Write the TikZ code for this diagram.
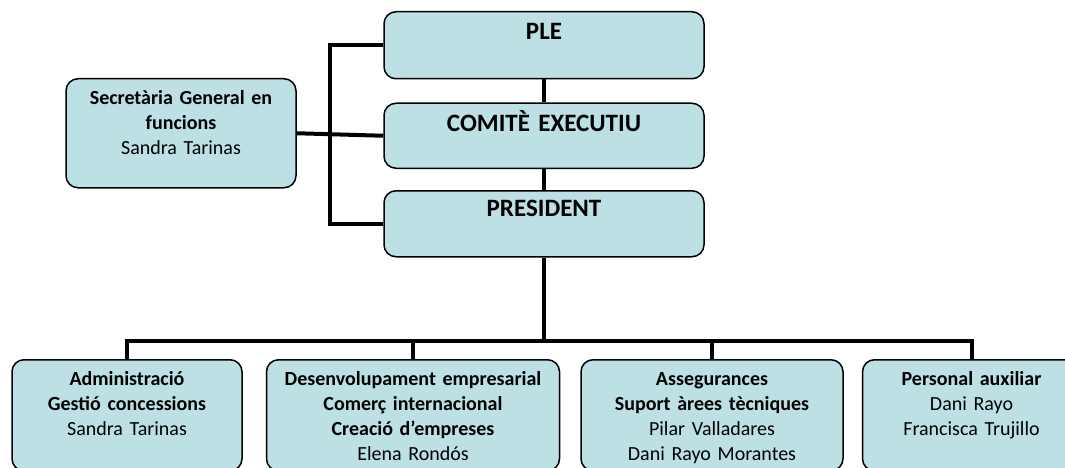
\documentclass[tikz,border=0pt]{standalone}
\usepackage{fontspec}
\setmainfont{Carlito}
\usepackage{tikz}
\usetikzlibrary{positioning}
\definecolor{boxblue}{HTML}{BCE0E4}

\begin{document}
\begin{tikzpicture}[x=1pt, y=-1pt,
        orgbox/.style={draw, line width=1.5pt, fill=boxblue, rounded corners=12pt, inner sep=0pt,
            align=center, font=\fontsize{20}{25}\selectfont},
        organ/.style={orgbox, text width=320pt, font=\fontsize{25}{26}\selectfont\bfseries},
        dept/.style={orgbox, text height=26pt, text depth=85pt},
        link/.style={line width=4pt}]
    \useasboundingbox (0,0) rectangle (1065,468);
    \clip (0,0) rectangle (1065,468);
    % governing bodies
    \node[organ, text height=28pt, text depth=39pt, anchor=north] (ple) at (544,11) {PLE};
    \node[organ, text height=28pt, text depth=37pt, below=23pt of ple] (comite) {COMITÈ EXECUTIU};
    \node[organ, text height=26pt, text depth=40pt, below=21pt of comite] (pres) {PRESIDENT};
    \node[orgbox, text width=230pt, text height=26pt, text depth=83pt, anchor=north] (sec) at (181,78)
        {\textbf{Secretària General en}\\\textbf{funcions}\\Sandra Tarinas};
    % departments
    \node[dept, text width=230pt, anchor=north] (adm) at (127,359)
        {\textbf{Administració}\\\textbf{Gestió concessions}\\Sandra Tarinas};
    \node[dept, text width=293pt, right=23pt of adm] (des)
        {\textbf{Desenvolupament empresarial}\\\textbf{Comerç internacional}\\\textbf{Creació d’empreses}\\Elena Rondós};
    \node[dept, text width=262pt, right=20pt of des] (ass)
        {\textbf{Assegurances}\\\textbf{Suport àrees tècniques}\\Pilar Valladares\\Dani Rayo Morantes};
    \node[dept, text width=218pt, right=18pt of ass] (aux)
        {\textbf{Personal auxiliar}\\Dani Rayo\\Francisca Trujillo};
    % connectors
    \draw[link] (ple) -- (comite);
    \draw[link] (comite) -- (pres);
    \coordinate (brk) at (330,133);
    \draw[link] (ple.west) -| (brk) |- (pres.west);
    \draw[link] (sec.east) -- (comite.west);
    \draw[link] (pres.south) -- ++(0,83) coordinate (bus);
    \foreach \d in {adm,des,ass,aux}
        \draw[link] (bus) -| (\d.north);
\end{tikzpicture}
\end{document}
